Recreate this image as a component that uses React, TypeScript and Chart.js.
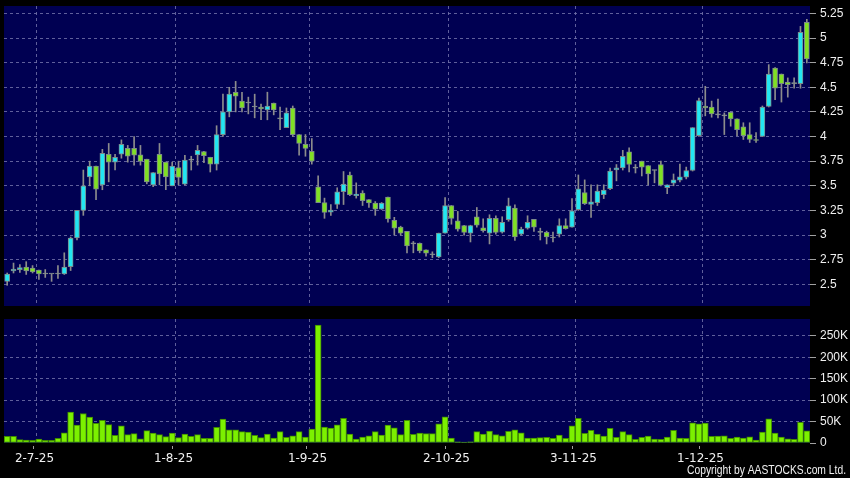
import React, { useEffect, useRef } from "react";
import { Chart, registerables } from "chart.js";

Chart.register(...registerables);

// Trading days (d-m-25)
const dates = [
  "25-6-25", "26-6-25", "27-6-25", "30-6-25",
  "2-7-25", "3-7-25", "4-7-25", "7-7-25", "8-7-25", "9-7-25", "10-7-25", "11-7-25", "14-7-25", "15-7-25", "16-7-25", "17-7-25", "18-7-25", "21-7-25", "22-7-25", "23-7-25", "24-7-25", "25-7-25", "28-7-25", "29-7-25", "30-7-25", "31-7-25",
  "1-8-25", "4-8-25", "5-8-25", "6-8-25", "7-8-25", "8-8-25", "11-8-25", "12-8-25", "13-8-25", "14-8-25", "15-8-25", "18-8-25", "19-8-25", "20-8-25", "21-8-25", "22-8-25", "25-8-25", "26-8-25", "27-8-25", "28-8-25", "29-8-25",
  "1-9-25", "2-9-25", "3-9-25", "4-9-25", "5-9-25", "8-9-25", "9-9-25", "10-9-25", "11-9-25", "12-9-25", "15-9-25", "16-9-25", "17-9-25", "18-9-25", "19-9-25", "22-9-25", "23-9-25", "24-9-25", "25-9-25", "26-9-25", "29-9-25", "30-9-25",
  "2-10-25", "3-10-25", "6-10-25", "8-10-25", "9-10-25", "10-10-25", "13-10-25", "14-10-25", "15-10-25", "16-10-25", "17-10-25", "20-10-25", "21-10-25", "22-10-25", "23-10-25", "24-10-25", "27-10-25", "28-10-25", "30-10-25", "31-10-25",
  "3-11-25", "4-11-25", "5-11-25", "6-11-25", "7-11-25", "10-11-25", "11-11-25", "12-11-25", "13-11-25", "14-11-25", "17-11-25", "18-11-25", "19-11-25", "20-11-25", "21-11-25", "24-11-25", "25-11-25", "26-11-25", "27-11-25", "28-11-25",
  "1-12-25", "2-12-25", "3-12-25", "4-12-25", "5-12-25", "8-12-25", "9-12-25", "10-12-25", "11-12-25", "12-12-25", "15-12-25", "16-12-25", "17-12-25", "18-12-25", "19-12-25", "22-12-25", "23-12-25", "24-12-25",
];

const opens = [
  2.53, 2.635, 2.65, 2.675, 2.665, 2.645, 2.605, 2.605, 2.605, 2.605,
  2.68, 2.97, 3.25, 3.59, 3.70, 3.51, 3.82, 3.74, 3.82, 3.88,
  3.88, 3.814, 3.77, 3.51, 3.82, 3.74, 3.50, 3.686, 3.517, 3.76,
  3.814, 3.848, 3.79, 3.72, 4.02, 4.25, 4.45, 4.36, 4.34, 4.30,
  4.30, 4.27, 4.34, 4.18, 4.09, 4.29, 4.02, 3.92, 3.85, 3.49,
  3.33, 3.233, 3.31, 3.44, 3.61, 3.40, 3.426, 3.36, 3.325, 3.264,
  3.385, 3.15, 3.08, 3.037, 2.91, 2.916, 2.85, 2.80, 2.777, 3.02,
  3.30, 3.145, 3.095, 3.02, 3.186, 3.074, 3.02, 3.17, 3.03, 3.155,
  3.274, 3.01, 3.07, 3.16, 3.027, 3.027, 2.97, 3.01, 3.095, 3.08,
  3.257, 3.43, 3.31, 3.33, 3.41, 3.47, 3.662, 3.682, 3.845, 3.68,
  3.75, 3.706, 3.655, 3.716, 3.48, 3.527, 3.557, 3.588, 3.655, 4.01,
  4.31, 4.30, 4.22, 4.21, 4.247, 4.18, 4.098, 4.02, 3.965, 4.0,
  4.307, 4.696, 4.635, 4.554, 4.537, 4.537, 5.159,
];

const highs = [
  2.615, 2.716, 2.70, 2.73, 2.69, 2.645, 2.65, 2.605, 2.69, 2.82,
  2.98, 3.25, 3.66, 3.75, 3.70, 3.87, 3.93, 3.82, 3.966, 3.91,
  4.0, 3.91, 3.77, 3.635, 3.93, 3.74, 3.74, 3.75, 3.81, 3.80,
  3.91, 3.85, 3.79, 4.11, 4.43, 4.50, 4.56, 4.45, 4.40, 4.43,
  4.33, 4.45, 4.34, 4.30, 4.29, 4.31, 4.02, 4.02, 3.98, 3.60,
  3.375, 3.31, 3.48, 3.645, 3.64, 3.53, 3.45, 3.36, 3.34, 3.33,
  3.385, 3.18, 3.09, 3.037, 2.935, 2.92, 2.85, 2.83, 3.02, 3.38,
  3.30, 3.24, 3.10, 3.10, 3.28, 3.165, 3.206, 3.196, 3.186, 3.375,
  3.307, 3.08, 3.196, 3.16, 3.07, 3.04, 3.03, 3.165, 3.165, 3.37,
  3.61, 3.56, 3.51, 3.51, 3.51, 3.68, 3.716, 3.86, 3.885, 3.716,
  3.75, 3.706, 3.66, 3.75, 3.51, 3.62, 3.72, 3.69, 4.09, 4.39,
  4.51, 4.36, 4.38, 4.24, 4.25, 4.18, 4.14, 4.14, 4.04, 4.31,
  4.73, 4.70, 4.635, 4.595, 4.595, 5.118, 5.19,
];

const lows = [
  2.49, 2.615, 2.62, 2.60, 2.615, 2.55, 2.57, 2.53, 2.56, 2.60,
  2.64, 2.95, 3.20, 3.50, 3.36, 3.46, 3.54, 3.66, 3.78, 3.74,
  3.71, 3.71, 3.52, 3.49, 3.51, 3.46, 3.50, 3.51, 3.51, 3.66,
  3.71, 3.735, 3.64, 3.66, 4.0, 4.20, 4.25, 4.25, 4.23, 4.19,
  4.17, 4.17, 4.22, 4.07, 4.09, 4.0, 3.81, 3.80, 3.72, 3.33,
  3.17, 3.20, 3.27, 3.31, 3.40, 3.375, 3.30, 3.28, 3.20, 3.26,
  3.13, 3.0, 3.0, 2.82, 2.82, 2.82, 2.785, 2.77, 2.77, 3.02,
  3.11, 3.04, 3.0, 2.93, 3.08, 3.03, 2.91, 3.01, 3.02, 3.14,
  2.945, 3.0, 3.06, 3.036, 2.95, 2.91, 2.93, 2.98, 3.06, 3.08,
  3.25, 3.31, 3.18, 3.30, 3.37, 3.46, 3.55, 3.66, 3.64, 3.63,
  3.60, 3.51, 3.53, 3.50, 3.42, 3.50, 3.54, 3.57, 3.65, 4.0,
  4.21, 4.196, 4.19, 4.02, 4.105, 4.01, 3.97, 3.94, 3.94, 4.0,
  4.30, 4.375, 4.35, 4.40, 4.49, 4.49, 4.747,
];

const closes = [
  2.605, 2.655, 2.67, 2.635, 2.625, 2.605, 2.605, 2.605, 2.605, 2.675,
  2.97, 3.25, 3.50, 3.70, 3.465, 3.83, 3.74, 3.79, 3.92, 3.80,
  3.81, 3.747, 3.54, 3.635, 3.62, 3.59, 3.70, 3.585, 3.76, 3.76,
  3.86, 3.807, 3.72, 4.02, 4.25, 4.43, 4.41, 4.29, 4.34, 4.30,
  4.28, 4.31, 4.27, 4.18, 4.24, 4.02, 3.93, 3.88, 3.75, 3.33,
  3.23, 3.253, 3.44, 3.517, 3.41, 3.415, 3.35, 3.325, 3.264, 3.325,
  3.165, 3.07, 3.02, 2.89, 2.91, 2.84, 2.815, 2.80, 3.02, 3.30,
  3.17, 3.06, 3.027, 3.095, 3.10, 3.044, 3.17, 3.027, 3.13, 3.297,
  2.98, 3.06, 3.13, 3.08, 3.027, 2.98, 2.97, 3.095, 3.064, 3.247,
  3.47, 3.318, 3.338, 3.446, 3.456, 3.65, 3.682, 3.80, 3.716, 3.68,
  3.69, 3.62, 3.655, 3.507, 3.51, 3.56, 3.59, 3.655, 4.09, 4.365,
  4.29, 4.23, 4.22, 4.21, 4.18, 4.07, 4.01, 3.97, 3.96, 4.30,
  4.635, 4.49, 4.537, 4.527, 4.537, 5.057, 4.787,
];

// Volume in thousands of shares
const volumes = [
  15.5, 15.5, 7.8, 7, 6, 9, 6, 6, 11, 24,
  72, 42, 69, 60.5, 46, 53, 43, 18, 40, 19.5,
  22, 10, 29, 23, 19.5, 15, 23, 12.5, 21, 15.5,
  19.5, 11, 11, 36.5, 56, 31, 31, 26.4, 25.6, 18,
  12.5, 21, 11.6, 26.4, 13, 17, 26.4, 14, 32.6, 275.6,
  37, 35, 42.7, 57.5, 21, 9.3, 14, 17, 26.4, 18.6,
  42, 35.7, 19.4, 52.8, 20, 23, 22, 22, 45, 61,
  11.6, 3, 2.3, 3, 26.4, 21, 28, 19.4, 17, 27,
  31, 24, 11.6, 11.6, 12.4, 13, 11, 18.6, 11, 40,
  57.5, 22.5, 29.5, 21, 16.3, 34, 13, 26.4, 19.4, 8.5,
  13, 16.3, 9.3, 8.5, 14, 29.5, 11.6, 11, 47, 45,
  46.6, 15.5, 16.3, 17, 11, 14, 11.6, 14.7, 7, 25.6,
  56.7, 23, 14, 10, 8.5, 48, 28.7,
];

const tickDates = ["2-7-25", "1-8-25", "1-9-25", "2-10-25", "3-11-25", "1-12-25"];

const NAVY = "#000052";
const GRID = "rgba(112,112,168,0.85)";
const TICK = "#a0a0a0";
const TEXT = "#f0f0f0";
const UP = "#22e6f2";
const DOWN = "#80e024";
const FLAT = "#8c9494";

function gridX(chart: any, idx: number) {
  const x = chart.scales.x;
  return (x.getPixelForValue(idx - 1) + x.getPixelForValue(idx)) / 2;
}

const fitRightAxis = (s: any) => {
  s.width = 40;
  s.paddingTop = 0;
  s.paddingBottom = 0;
};

const panelPlugin = {
  id: "panel",
  beforeDraw(chart: any) {
    const { ctx, chartArea: a, width, height } = chart;
    ctx.save();
    ctx.fillStyle = "#000";
    ctx.fillRect(0, 0, width, height);
    ctx.fillStyle = NAVY;
    ctx.fillRect(a.left, a.top, a.right - a.left, a.bottom - a.top);
    ctx.restore();
  },
  beforeDatasetsDraw(chart: any) {
    const { ctx, chartArea: a } = chart;
    ctx.save();
    ctx.strokeStyle = GRID;
    ctx.lineWidth = 1;
    ctx.setLineDash([3, 3]);
    ctx.beginPath();
    for (const d of tickDates) {
      const i = dates.indexOf(d);
      const px = Math.round(gridX(chart, i + 1)) + 0.5;
      ctx.moveTo(px, a.top);
      ctx.lineTo(px, a.bottom);
    }
    ctx.stroke();
    ctx.restore();
  },
};

const axisLabelPlugin = {
  id: "axisLabels",
  afterDraw(chart: any) {
    const { ctx, chartArea: a } = chart;
    ctx.save();
    ctx.strokeStyle = TICK;
    ctx.lineWidth = 1;
    ctx.fillStyle = TEXT;
    ctx.font = "12px 'DejaVu Sans'";
    ctx.textAlign = "center";
    ctx.textBaseline = "alphabetic";
    for (const d of tickDates) {
      const i = dates.indexOf(d);
      const px = Math.round(gridX(chart, i + 1)) + 0.5;
      ctx.beginPath();
      ctx.moveTo(px - 3, a.bottom + 3);
      ctx.lineTo(px - 3, a.bottom + 6);
      ctx.stroke();
      ctx.fillText(d, px - 2, a.bottom + 19);
    }
    // copyright
    ctx.font = "12px 'Liberation Sans'";
    ctx.textAlign = "right";
    const txt = "Copyright by AASTOCKS.com Ltd.";
    const w = ctx.measureText(txt).width;
    ctx.translate(846, a.bottom + 31);
    ctx.scale(159 / w, 1);
    ctx.fillText(txt, 0, 0);
    ctx.restore();
  },
};

export default function App() {
  const priceRef = useRef<HTMLCanvasElement>(null);
  const volRef = useRef<HTMLCanvasElement>(null);

  useEffect(() => {
    const candleColor = (i: number) =>
      closes[i] > opens[i] ? UP : closes[i] < opens[i] ? DOWN : FLAT;

    const price = new Chart(priceRef.current!, {
      type: "bar",
      data: {
        labels: dates,
        datasets: [
          {
            label: "body",
            data: dates.map((_, i) => [opens[i], closes[i]]) as any,
            backgroundColor: (c: any) => candleColor(c.dataIndex),
            borderColor: "#7c8a8a",
            borderWidth: 1,
            borderSkipped: false,
            barThickness: 5,
            minBarLength: 1,
            grouped: false,
            order: 0,
          } as any,
          {
            label: "wick",
            data: dates.map((_, i) => [lows[i], highs[i]]) as any,
            backgroundColor: "#8c8c8c",
            borderWidth: 0,
            barThickness: 1,
            grouped: false,
            order: 1,
          } as any,
        ],
      },
      options: {
        animation: false,
        responsive: false,
        maintainAspectRatio: false,
        layout: { padding: { left: 4, top: 6, right: 0, bottom: 4 } },
        plugins: { legend: { display: false }, tooltip: { enabled: false } },
        scales: {
          x: { type: "category", display: false, offset: true },
          y: {
            position: "right",
            min: 2.28,
            max: 5.325,
            afterFit: fitRightAxis,
            ticks: {
              stepSize: 0.25,
              includeBounds: false,
              color: TEXT,
              font: { family: "'Liberation Sans'", size: 12 },
              padding: 4,
              callback: (v: any) => String(+Number(v).toFixed(2)),
            },
            grid: {
              color: GRID,
              tickColor: TICK,
              tickLength: 6,
              tickBorderDash: [],
              lineWidth: 1,
            },
            border: { display: false, dash: [3, 3] },
          } as any,
        },
      },
      plugins: [panelPlugin],
    });

    const vol = new Chart(volRef.current!, {
      type: "bar",
      data: {
        labels: dates,
        datasets: [
          {
            label: "volume",
            data: volumes,
            backgroundColor: "#7cf000",
            borderColor: "#3f8a00",
            borderWidth: 1,
            borderSkipped: false,
            barThickness: 6,
          } as any,
        ],
      },
      options: {
        animation: false,
        responsive: false,
        maintainAspectRatio: false,
        layout: { padding: { left: 4, top: 9, right: 0, bottom: 35 } },
        plugins: { legend: { display: false }, tooltip: { enabled: false } },
        scales: {
          x: { type: "category", display: false, offset: true },
          y: {
            position: "right",
            min: 0,
            max: 289.6,
            afterFit: fitRightAxis,
            ticks: {
              stepSize: 50,
              includeBounds: false,
              color: TEXT,
              font: { family: "'Liberation Sans'", size: 12 },
              padding: 4,
              callback: (v: any) => (Number(v) === 0 ? "0" : `${v}K`),
            },
            grid: {
              color: (c: any) => (c.tick && c.tick.value === 0 ? "rgba(0,0,0,0)" : GRID),
              tickColor: TICK,
              tickLength: 6,
              tickBorderDash: [],
              lineWidth: 1,
            },
            border: { display: false, dash: [3, 3] },
          } as any,
        },
      },
      plugins: [panelPlugin, axisLabelPlugin],
    });

    return () => {
      price.destroy();
      vol.destroy();
    };
  }, []);

  return (
    <div
      style={{
        position: "fixed",
        left: 0,
        top: 0,
        width: 850,
        height: 478,
        background: "#000",
        overflow: "hidden",
      }}
    >
      <canvas
        ref={priceRef}
        width={850}
        height={310}
        style={{ position: "absolute", left: 0, top: 0, width: 850, height: 310 }}
      />
      <canvas
        ref={volRef}
        width={850}
        height={168}
        style={{ position: "absolute", left: 0, top: 310, width: 850, height: 168 }}
      />
    </div>
  );
}
